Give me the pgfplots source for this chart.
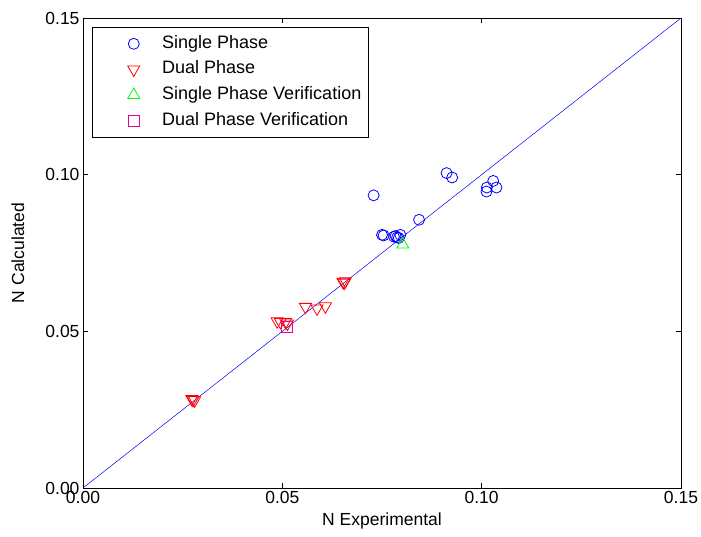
\documentclass[border=0pt]{standalone}
\usepackage{pgfplots}
\pgfplotsset{compat=1.18}
\usepackage{fontspec}
\setmainfont{Liberation Sans}
\begin{document}
\begin{tikzpicture}
\useasboundingbox (-83pt,-49pt) rectangle (618pt,488pt);
\begin{axis}[
  scale only axis, width=598pt, height=470pt,
  xmin=0, xmax=0.15, ymin=0, ymax=0.15,
  xtick={0,0.05,0.1,0.15}, ytick={0,0.05,0.1,0.15},
  tick align=inside, major tick length=5pt,
  scaled ticks=false,
  /pgf/number format/.cd, fixed, fixed zerofill, precision=2, assume math mode=true,
  /pgfplots/.cd,
  tick label style={font=\fontsize{17.5}{20}\selectfont},
  label style={font=\fontsize{17.5}{20}\selectfont},
  xlabel={N Experimental}, ylabel={N Calculated},
  x label style={at={(axis description cs:0.5,-0.07)}, anchor=center},
  y label style={at={(axis description cs:-0.109,0.5)}, anchor=center},
  axis line style={black, line width=0.8pt},
  tick style={black, line width=0.6pt},
  legend cell align=left,
  legend style={at={(0.015,0.981)}, anchor=north west, draw=black, line width=0.8pt,
    font=\fontsize{18}{20}\selectfont, row sep=4.6pt, inner xsep=5pt, inner ysep=6pt,
    nodes={text height=13pt, text depth=4pt}},
  myleg/.style={legend image code/.code={\path (0pt,0pt) (62pt,0pt);\draw[mark repeat=2,mark phase=2,##1] plot coordinates {(0pt,0pt) (36pt,0pt) (62pt,0pt)};}},
]
\addplot[blue, only marks, myleg, mark=o, mark size=5.5pt, line width=0.8pt] coordinates {
(0.0729,0.0934) (0.0912,0.1005) (0.0926,0.0991) (0.1029,0.0980) (0.1037,0.0959)
(0.1013,0.0959) (0.1012,0.0946) (0.0843,0.0856) (0.0750,0.0808) (0.0754,0.0806)
(0.0780,0.0802) (0.0784,0.0804) (0.0788,0.0800) (0.0796,0.0808) (0.0792,0.0798)
};
\addlegendentry{Single Phase}
\addplot[red, only marks, myleg, mark=triangle, mark size=7pt, line width=0.8pt, every mark/.append style={rotate=180}] coordinates {
(0.0273,0.0284) (0.0276,0.0281) (0.0280,0.0280)
(0.0487,0.0532) (0.0495,0.0530) (0.0508,0.0530) (0.0513,0.0525)
(0.0558,0.0578) (0.0587,0.0573) (0.0608,0.0580)
(0.0652,0.0658) (0.0655,0.0655) (0.0658,0.0660)
};
\addlegendentry{Dual Phase}
\addplot[green, only marks, myleg, mark=triangle, mark size=7pt, line width=0.8pt] coordinates {(0.0802,0.0777)};
\addlegendentry{Single Phase Verification}
\addplot[magenta, only marks, myleg, mark=square, mark size=5.5pt, line width=0.8pt] coordinates {(0.0512,0.0514)};
\addlegendentry{Dual Phase Verification}
\addplot[blue, line width=0.5pt, forget plot] coordinates {(0,0) (0.15,0.15)};
\end{axis}
\end{tikzpicture}
\end{document}
